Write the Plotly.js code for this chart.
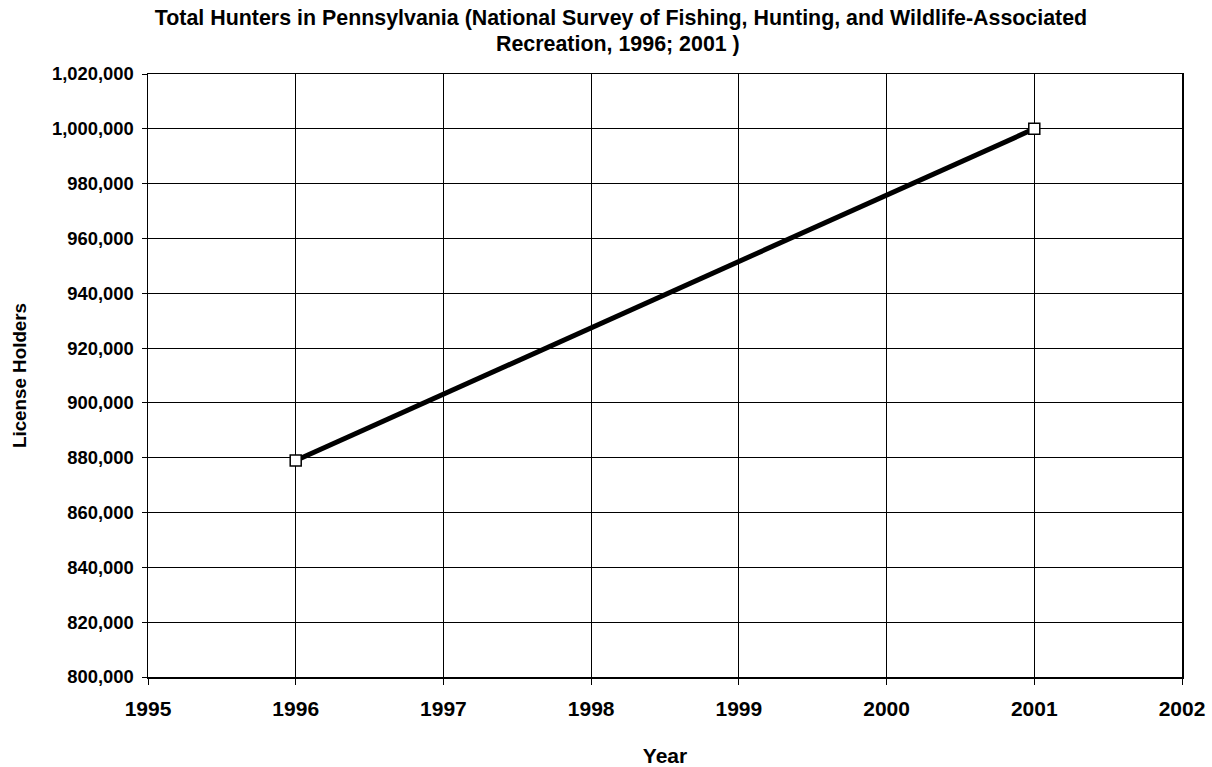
<!DOCTYPE html>
<html>
<head>
<meta charset="utf-8">
<script src="https://cdn.plot.ly/plotly-3.0.1.min.js"></script>
<style>
html,body{margin:0;padding:0;background:#fff;}
#chart{width:1212px;height:767px;}
</style>
</head>
<body>
<div id="chart"></div>
<script>
var years = [1996, 2001];
var hunters = [879000, 1000000];
var xTickVals = [1995, 1996, 1997, 1998, 1999, 2000, 2001, 2002];
var yTickVals = [800000, 820000, 840000, 860000, 880000, 900000, 920000, 940000, 960000, 980000, 1000000, 1020000];
var titleLine1 = "Total Hunters in Pennsylvania (National Survey of Fishing, Hunting, and Wildlife-Associated";
var titleLine2 = "Recreation, 1996; 2001 )";
var xTitle = "Year";
var yTitle = "License Holders";

var FONT = "Liberation Sans, Arial, sans-serif";

var trace = {
  x: years,
  y: hunters,
  type: "scatter",
  mode: "lines+markers",
  line: {color: "#000000", width: 5},
  marker: {symbol: "square", size: 11, color: "#ffffff", line: {color: "#000000", width: 1.5}},
  showlegend: false,
  hoverinfo: "x+y"
};

var layout = {
  width: 1212,
  height: 767,
  paper_bgcolor: "#ffffff",
  plot_bgcolor: "#ffffff",
  margin: {l: 148, r: 30, t: 74, b: 90, pad: 0},
  font: {family: FONT, color: "#000000"},
  title: {
    text: "<b>" + titleLine1 + "</b>",
    font: {family: FONT, size: 21.4, color: "#000000"},
    x: 621 / 1212, xref: "container", xanchor: "center",
    y: 1 - 17.5 / 767, yref: "container", yanchor: "middle"
  },
  annotations: [{
    text: "<b>" + titleLine2 + "</b>",
    xref: "paper", yref: "paper",
    x: (618 - 148) / (1212 - 148 - 30), xanchor: "center",
    y: 1 + (74 - 43.5) / (767 - 74 - 90), yanchor: "middle",
    showarrow: false,
    font: {family: FONT, size: 21.4, color: "#000000"}
  }],
  xaxis: {
    range: [1995, 2002],
    tickmode: "array",
    tickvals: xTickVals,
    ticktext: xTickVals.map(String),
    ticks: "outside", ticklen: 6, tickwidth: 1, tickcolor: "#000000",
    showline: true, linecolor: "#000000", linewidth: 1.5, mirror: true,
    showgrid: true, gridcolor: "#000000", gridwidth: 1,
    zeroline: false,
    ticklabelstandoff: 6,
    tickfont: {family: FONT, size: 21, color: "#000000", weight: "bold"},
    title: {text: "<b>" + xTitle + "</b>", font: {family: FONT, size: 21, color: "#000000"}, standoff: 29}
  },
  yaxis: {
    range: [800000, 1020000],
    tickmode: "array",
    tickvals: yTickVals,
    ticktext: yTickVals.map(function(v){ return v.toLocaleString("en-US"); }),
    ticks: "outside", ticklen: 5, tickwidth: 1, tickcolor: "#000000",
    showline: true, linecolor: "#000000", linewidth: 1.5, mirror: true,
    showgrid: true, gridcolor: "#000000", gridwidth: 1,
    zeroline: false,
    ticklabelstandoff: 4,
    tickfont: {family: FONT, size: 18.4, color: "#000000", weight: "bold"},
    title: {text: "<b>" + yTitle + "</b>", font: {family: FONT, size: 18.8, color: "#000000"}, standoff: 20}
  }
};

Plotly.newPlot("chart", [trace], layout, {displayModeBar: false, staticPlot: true});
</script>
</body>
</html>
